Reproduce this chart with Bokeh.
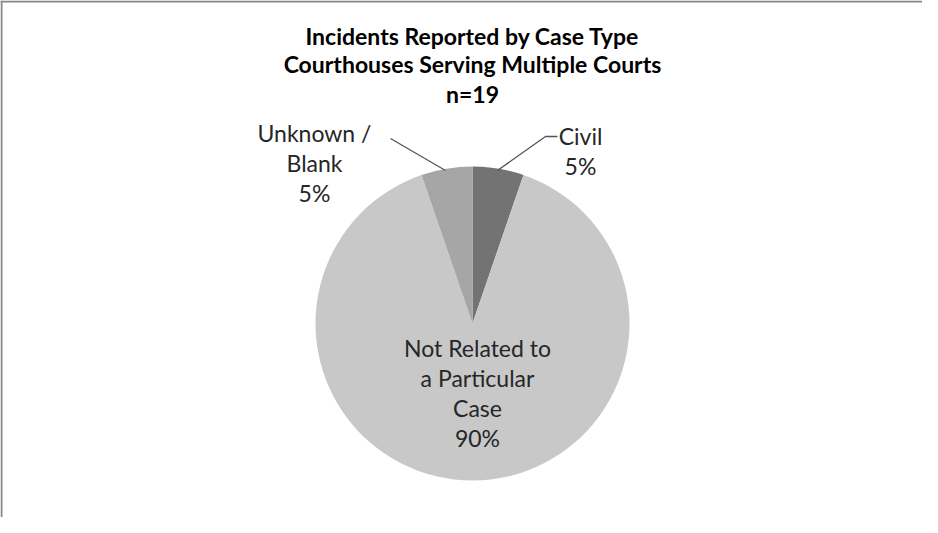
import numpy as np
from bokeh.plotting import figure
from bokeh.models import Range1d
from bokeh.core.properties import value
from bokeh.embed import file_html
from bokeh.resources import INLINE

# ---- data ----
categories = ["Civil", "Not Related to a Particular Case", "Unknown / Blank"]
counts = [1, 17, 1]
colors = ["#737373", "#c8c8c8", "#a6a6a6"]
label_lines = [["Civil", "5%"],
               ["Not Related to", "a Particular", "Case", "90%"],
               ["Unknown /", "Blank", "5%"]]
title_lines = ["Incidents Reported by Case Type",
               "Courthouses Serving Multiple Courts",
               "n=19"]

W, H = 922, 517
FONT = "Lato"

p = figure(width=W, height=H, output_backend="svg", toolbar_location=None,
           x_range=Range1d(0, W), y_range=Range1d(0, H), min_border=0,
           background_fill_color="white", border_fill_color="white")
p.axis.visible = False
p.grid.visible = False
p.outline_line_color = None

def py(page_y):
    return (8 + H) - page_y

def px(page_x):
    return page_x - 8

# chart border (left and top visible)
p.line([1, 1], [0, H], line_color="#878787", line_width=2)
p.line([0, W], [H - 1, H - 1], line_color="#878787", line_width=2)

# pie
cx, cy, r = px(480), py(331), 157
vals = np.array(counts, dtype=float)
frac = vals / vals.sum()
cum = np.concatenate([[0], np.cumsum(frac)])
start = np.pi / 2 - 2 * np.pi * cum[:-1]
end = np.pi / 2 - 2 * np.pi * cum[1:]
p.wedge(x=[cx] * len(counts), y=[cy] * len(counts), radius=r,
        start_angle=list(start), end_angle=list(end), direction="clock",
        fill_color=colors, line_color=None)

# leader lines
p.line([px(505), px(553), px(565)], [py(178), py(144), py(144)], line_color="#555555", line_width=1.3)
p.line([px(453), px(398)], [py(178), py(146)], line_color="#555555", line_width=1.3)

# labels
label_pos = [(588, 143), (485, 355), (322, 140)]
LH = 30
for lines, (lx, ly) in zip(label_lines, label_pos):
    xs = [px(lx)] * len(lines)
    ys = [py(ly + i * LH) for i in range(len(lines))]
    p.text(x=xs, y=ys, text=lines, text_align="center", text_baseline="middle",
           text_font=value(FONT), text_font_size="23px", text_color="#262626")

# title
tys = [43, 71.5, 101]
p.text(x=[px(480)] * 3, y=[py(t) for t in tys], text=title_lines,
       text_align="center", text_baseline="middle", text_font=value(FONT),
       text_font_size="23px", text_font_style="bold", text_color="#000000")

open("out.html", "w").write(file_html(p, INLINE))
